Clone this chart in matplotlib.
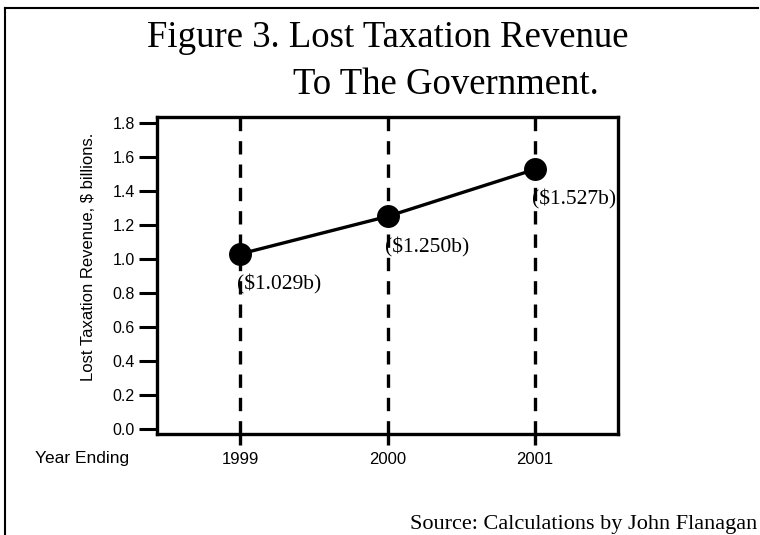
import matplotlib.pyplot as plt
from matplotlib.lines import Line2D

years = [1999, 2000, 2001]
revenue = [1.029, 1.250, 1.527]  # $ billions
ytick_values = [0.0, 0.2, 0.4, 0.6, 0.8, 1.0, 1.2, 1.4, 1.6, 1.8]

serif = ['Liberation Serif', 'DejaVu Serif']
sans = ['Liberation Sans', 'DejaVu Sans']

fig = plt.figure(figsize=(7.6, 5.35), dpi=100)
ax = fig.add_axes([157 / 760, 1 - 434 / 535, (618 - 157) / 760, (434 - 117) / 535])

# vertical dashed guides at each year
for yr in years:
    ax.axvline(yr, color='black', lw=2.4, ls=(0, (4, 3)), zorder=1)

ax.plot(years, revenue, color='black', lw=2.4, marker='o', markersize=15.5, zorder=3)

for yr, v in zip(years, revenue):
    ax.annotate(f'(${v:.3f}b)', (yr, v), xytext=(-2, -22), textcoords='offset points',
                ha='left', va='center', fontsize=15.5, family=serif)

ax.set_xlim(1998.437, 2001.563)
ax.set_ylim(-0.03, 1.835)
ax.set_yticks(ytick_values)
ax.set_yticklabels([f'{t:.1f}' for t in ytick_values], family=sans, fontsize=11.5)
ax.set_xticks(years)
ax.set_xticklabels([str(y) for y in years], family=sans, fontsize=12)
ax.tick_params(axis='y', direction='out', length=13, width=2.2, pad=3)
ax.tick_params(axis='x', direction='out', length=8, width=2.4, pad=5)
for s in ax.spines.values():
    s.set_linewidth(2.4)

# label anchor is its right edge (rotated text, bottom-aligned)
ax.set_ylabel('Lost Taxation Revenue, $ billions.', family=sans, fontsize=12)
ax.yaxis.set_label_coords(96 / 760, 1 - 257 / 535, transform=fig.transFigure)

fig.text(35 / 760, 1 - 459 / 535, 'Year Ending', family=sans, fontsize=12.5, va='center')

fig.text(388 / 760, 1 - 38 / 535, 'Figure 3. Lost Taxation Revenue', family=serif,
         fontsize=26.5, ha='center', va='center')
fig.text(446 / 760, 1 - 85 / 535, 'To The Government.', family=serif,
         fontsize=26.5, ha='center', va='center')
fig.text(757 / 760, 1 - 524 / 535, 'Source: Calculations by John Flanagan', family=serif,
         fontsize=16, ha='right', va='center')

# outer frame (left and top edges)
fig.add_artist(Line2D([5 / 760, 5 / 760], [0, 1 - 8 / 535], color='black', lw=1.5,
                      transform=fig.transFigure))
fig.add_artist(Line2D([5 / 760, 758 / 760], [1 - 8 / 535, 1 - 8 / 535], color='black', lw=1.5,
                      transform=fig.transFigure))

fig.savefig('out.png', dpi=100)
